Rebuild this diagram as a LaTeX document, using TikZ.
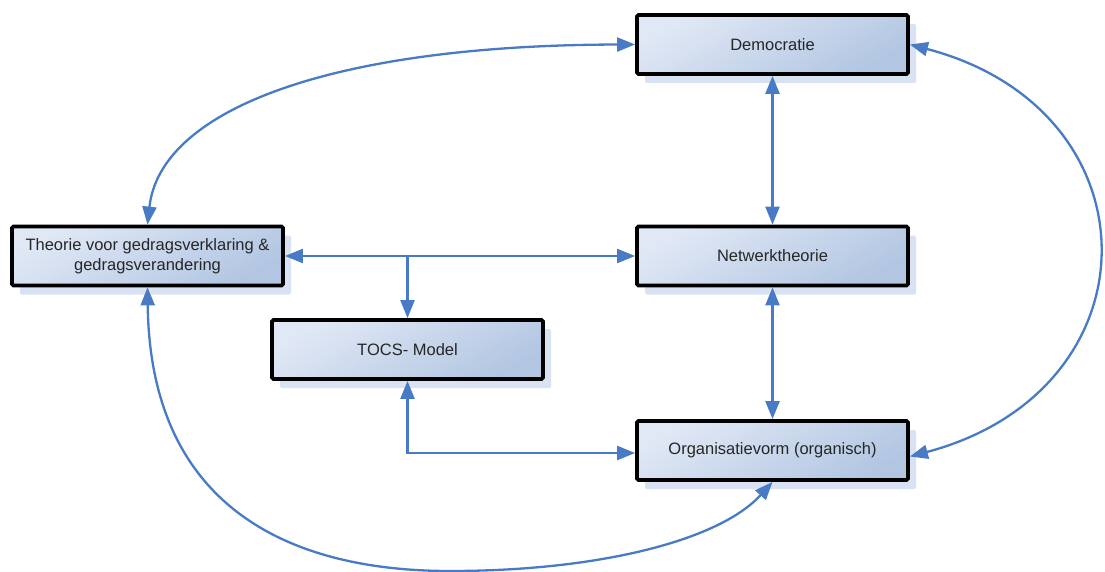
\documentclass[tikz,border=0pt]{standalone}
\usepackage{fontspec}
\setmainfont{Liberation Sans}
\usetikzlibrary{arrows.meta,shadows}

\definecolor{linkblue}{RGB}{72,122,198}
\definecolor{boxlight}{RGB}{224,232,245}
\definecolor{boxdark}{RGB}{178,198,226}
\definecolor{shadowc}{RGB}{216,226,242}
\definecolor{textc}{RGB}{38,38,38}

\tikzset{
  conceptbox/.style={
    rectangle, rounded corners=1.5pt, draw=black, line width=3.8pt,
    minimum width=271pt, minimum height=59pt, inner sep=2pt,
    top color=boxlight, bottom color=boxdark, shading angle=30,
    drop shadow={shadow xshift=8pt, shadow yshift=-9pt, fill=shadowc, draw=none, opacity=1},
    text=textc, font=\fontsize{16.5}{20}\selectfont, align=center
  },
  tip/.style={Triangle[length=18pt,width=14pt]},
  link/.style={draw=linkblue, line width=2.3pt, {Triangle[length=18pt,width=14pt]}-{Triangle[length=18pt,width=14pt]}},
  onelink/.style={draw=linkblue, line width=2.3pt, -{Triangle[length=18pt,width=14pt]}}
}

\begin{document}
\begin{tikzpicture}[x=1pt,y=-1pt]
\useasboundingbox (0,0) rectangle (1105,572);

% boxes
\node[conceptbox] (demo)  at (772.5,44.5) {Democratie};
\node[conceptbox] (theo)  at (147.5,256)  {Theorie voor gedragsverklaring \&\\gedragsverandering};
\node[conceptbox] (netw)  at (772.5,256)  {Netwerktheorie};
\node[conceptbox] (tocs)  at (407.5,349.5) {TOCS- Model};
\node[conceptbox] (org)   at (772.5,450.5) {Organisatievorm (organisch)};

% straight links
\draw[link] (demo.south) -- (netw.north);
\draw[link] (netw.south) -- (org.north);
\draw[link] (theo.east) -- (netw.west);
\coordinate (split) at (tocs.north |- theo.east);
\draw[onelink] (split) -- (tocs.north);
\draw[link] (tocs.south) |- ([yshift=-2.5pt]org.west);

% curved links
\draw[link] (theo.north) .. controls (160,110) and (330,45) .. (demo.west);
\draw[link] (demo.east) .. controls (1160,110) and (1160,390) .. ([yshift=-6pt]org.east);
\draw[link] (theo.south) .. controls (150,500) and (280,571) .. (450,571)
  .. controls (600,571) and (720,540) .. (org.south);
\end{tikzpicture}
\end{document}
